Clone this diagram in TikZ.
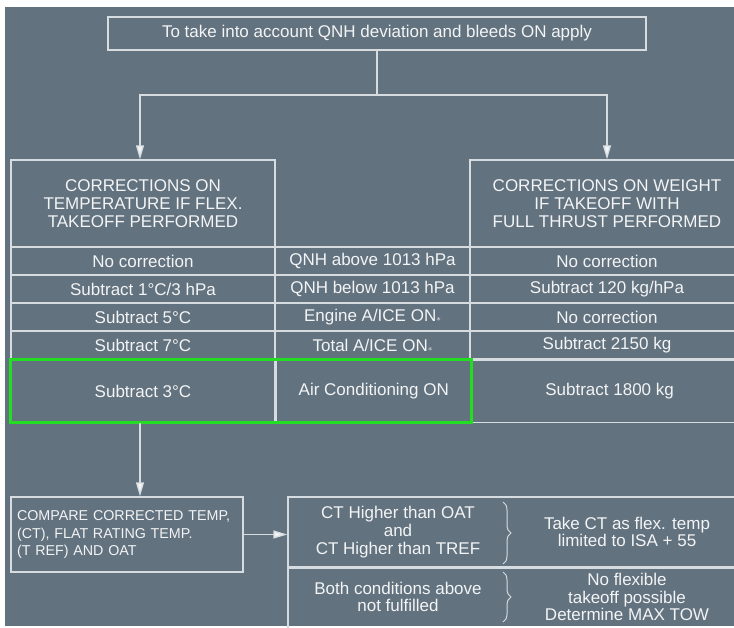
\documentclass[tikz,border=0pt]{standalone}
\usepackage{fontspec}
\setmainfont{Liberation Sans}
\usepackage{tikz}
\usetikzlibrary{arrows.meta, positioning, decorations.pathreplacing}
\usepackage{xcolor}
\definecolor{panelgray}{RGB}{99,114,127}
\definecolor{rulegray}{RGB}{214,220,224}
\definecolor{textwhite}{RGB}{242,244,245}
\definecolor{markgreen}{RGB}{34,221,34}
\newcommand{\icestar}{{\small$\ast$}}

\begin{document}
\begin{tikzpicture}[x=1pt, y=-1pt, every node/.style={font=\fontsize{17}{17.8}\selectfont, text=textwhite},
  cell/.style={draw=rulegray, line width=1.3pt, inner sep=0pt, minimum height=28pt},
  link/.style={draw=rulegray, line width=1.3pt},
  arr/.style={link, -{Triangle[width=8pt, length=14pt, fill=textwhite]}},
  curly/.style={draw=rulegray, line width=1pt, decorate, decoration={brace, amplitude=8pt}}]
\useasboundingbox[fill=white] (0,0) rectangle (734,628);
\fill[panelgray] (5,7) rectangle (734,626);

\node[cell, minimum width=538pt, minimum height=33pt] (apply) at (377,33.5) {To take into account QNH deviation and bleeds ON apply};
\node[cell, minimum width=264pt, minimum height=87pt, align=center] (temp) at (143,203.5) {CORRECTIONS ON\\TEMPERATURE IF FLEX.\\TAKEOFF PERFORMED};
\node[cell, minimum width=274pt, minimum height=87pt, align=center] (weight) at (607,203.5) {CORRECTIONS ON WEIGHT\\IF TAKEOFF WITH\\FULL THRUST PERFORMED};

% correction table
\foreach \y/\l/\m/\r [count=\k] in {261/No correction/QNH above 1013 hPa/No correction,
    289/{Subtract 1°C/3 hPa}/QNH below 1013 hPa/{Subtract 120 kg/hPa},
    317/Subtract 5°C/{Engine A/ICE ON\icestar}/No correction,
    345/Subtract 7°C/{Total A/ICE ON\icestar}/Subtract 2150 kg} {
  \node[cell, minimum width=264pt] (l\k) at (143,\y) {\l};
  \node[cell, minimum width=195pt] (m\k) at (372.5,\y) {\m};
  \node[cell, minimum width=274pt] (r\k) at (607,\y) {\r};
}
\node[cell, minimum width=264pt, minimum height=62pt, below=0pt of l4] (l5) {Subtract 3°C};
\node[cell, minimum width=195pt, minimum height=62pt, right=0pt of l5] (m5) {Air Conditioning ON};
\node[cell, minimum width=274pt, minimum height=62pt, right=0pt of m5] (r5) {Subtract 1800 kg};
\draw[markgreen, line width=3pt] (l5.north west) rectangle (m5.south east);

\node[cell, minimum width=232pt, minimum height=75pt, text width=220pt, align=left, font=\fontsize{14.3}{17.5}\selectfont] (cmp) at (127,534.5) {COMPARE CORRECTED TEMP,\\(CT), FLAT RATING TEMP.\\(T REF) AND OAT};
\node[cell, minimum width=456pt, minimum height=70pt] (res1) at (516,532) {};
\node[cell, minimum width=456pt, minimum height=60pt, below=0pt of res1] (res2) {};
\node[align=center] (cond1) at (398,532) {CT Higher than OAT\\and\\CT Higher than TREF};
\node[align=center] (act1) at (627,532) {Take CT as flex. temp\\limited to ISA + 55};
\node[align=center] (cond2) at (398,597) {Both conditions above\\not fulfilled};
\node[align=center] (act2) at (627,597) {No flexible\\takeoff possible\\Determine MAX TOW};
\draw[curly] (503,502) -- (503,564);
\draw[curly] (503,572) -- (503,622);

\coordinate (split) at (377,95);
\draw[link] (apply) -- (split);
\draw[arr] (split) -| ([xshift=-3pt]temp.north);
\draw[arr] (split) -| (weight.north);
\draw[arr] ([xshift=-3pt]l5.south) -- ([xshift=-3pt]l5.south |- cmp.north);
\draw[arr] (cmp.east) -- (cmp.east -| res1.west);
\end{tikzpicture}
\end{document}
